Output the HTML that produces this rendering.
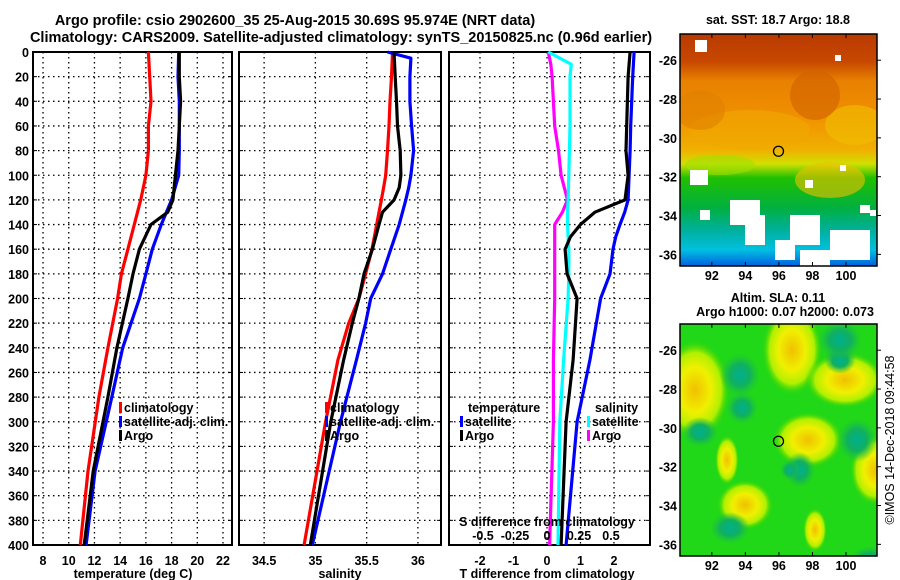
<!DOCTYPE html>
<html><head><meta charset="utf-8"><style>
body{margin:0;background:#fff}
svg{display:block;font-family:"Liberation Sans",sans-serif;font-weight:bold}
</style></head><body>
<svg id="s" width="900" height="580" viewBox="0 0 900 580">
<defs>
<linearGradient id="sst" x1="0" y1="0" x2="0" y2="1">
<stop offset="0" stop-color="#b83a00"/><stop offset="0.12" stop-color="#c84800"/>
<stop offset="0.2" stop-color="#e88000"/><stop offset="0.35" stop-color="#f09000"/>
<stop offset="0.5" stop-color="#f0b000"/><stop offset="0.56" stop-color="#d0e000"/>
<stop offset="0.62" stop-color="#20c000"/><stop offset="0.75" stop-color="#00b040"/>
<stop offset="0.85" stop-color="#00b0a0"/><stop offset="0.93" stop-color="#00c0e0"/>
<stop offset="1" stop-color="#0060e0"/></linearGradient>
<radialGradient id="yb"><stop offset="0" stop-color="#f0c000"/><stop offset="0.45" stop-color="#f0f000"/><stop offset="0.75" stop-color="#b0f000"/><stop offset="1" stop-color="#30d000" stop-opacity="0"/></radialGradient>
<radialGradient id="tb"><stop offset="0" stop-color="#00b090"/><stop offset="0.5" stop-color="#10b060"/><stop offset="1" stop-color="#20c040" stop-opacity="0"/></radialGradient>
<clipPath id="c1"><rect x="680" y="34" width="197" height="232"/></clipPath>
<clipPath id="c2"><rect x="680" y="324" width="197" height="232"/></clipPath>
</defs>
<text x="295" y="25" font-size="14.5" text-anchor="middle">Argo profile: csio 2902600_35 25-Aug-2015 30.69S 95.974E (NRT data)</text>
<text x="341" y="42" font-size="14.5" text-anchor="middle">Climatology: CARS2009. Satellite-adjusted climatology: synTS_20150825.nc (0.96d earlier)</text>
<g id="g"></g>
</svg>
<script>
// depth axis
const depthTicks=[0,20,40,60,80,100,120,140,160,180,200,220,240,260,280,300,320,340,360,380,400];
// temperature panel
const tTicks=[8,10,12,14,16,18,20,22];
const tDepth=[0,20,40,60,80,100,120,130,140,160,180,200,240,280,340,400];
const tClim=[16.2,16.3,16.4,16.2,16.2,16.0,15.6,15.35,15.1,14.6,14.1,13.8,13.05,12.35,11.5,10.9];
const tSat=[18.55,18.5,18.6,18.6,18.6,18.55,18.0,17.6,17.2,16.5,16.0,15.5,14.2,13.35,12.05,11.35];
const tArgo=[18.6,18.6,18.7,18.6,18.5,18.3,18.1,17.7,16.4,15.5,15.0,14.6,13.75,13.05,11.9,11.2];
// salinity panel
const sTicks=[34.5,35,35.5,36];
const sTickLabels=["34.5","35","35.5","36"];
const sDepth=[0,5,20,40,60,80,100,110,120,130,140,160,180,200,220,250,300,400];
const sClim=[35.752,35.75,35.742,35.728,35.718,35.703,35.686,35.665,35.644,35.62,35.598,35.552,35.49,35.424,35.325,35.22,35.10,34.89];
const sSat=[35.703,35.931,35.922,35.922,35.938,35.958,35.931,35.91,35.882,35.85,35.817,35.735,35.654,35.539,35.49,35.40,35.245,34.97];
const sArgo=[35.768,35.77,35.778,35.791,35.801,35.827,35.834,35.817,35.768,35.654,35.620,35.556,35.474,35.424,35.36,35.275,35.15,34.95];
// difference panel
const dTTicks=[-2,-1,0,1,2];
const dSTicks=[-0.5,-0.25,0,0.25,0.5];
const dSTickLabels=["-0.5","-0.25","0","0.25","0.5"];
const dDepth=[0,10,20,60,80,100,120,130,140,150,160,180,200,250,300,400];
const dTArgo=[2.48,2.45,2.42,2.38,2.36,2.42,2.33,1.43,1.0,0.7,0.54,0.6,0.9,0.78,0.57,0.42];
const dTSat=[2.6,2.58,2.56,2.5,2.48,2.45,2.42,2.32,2.18,2.05,1.97,1.88,1.6,1.28,0.9,0.57];
const dSSat=[0.01,0.19,0.18,0.18,0.175,0.17,0.165,0.16,0.16,0.165,0.17,0.17,0.165,0.13,0.1,0.086];
const dSArgo=[0.01,0.03,0.04,0.06,0.09,0.11,0.16,0.12,0.06,0.06,0.06,0.06,0.06,0.05,0.05,0.02];
// maps
const lonTicks=[92,94,96,98,100];
const latTicks=[-26,-28,-30,-32,-34,-36];
const argoLon=95.974, argoLat=-30.69;

const NS='http://www.w3.org/2000/svg', G=document.getElementById('g');
function el(t,a,p){const e=document.createElementNS(NS,t);for(const k in a)e.setAttribute(k,a[k]);(p||G).appendChild(e);return e;}
const Y0=52,Y1=545;
const yD=d=>Y0+(d/400)*(Y1-Y0);
function panel(name,x0,x1,vmin,vmax,ticks,labels,labelY){
  const sx=v=>x0+(v-vmin)/(vmax-vmin)*(x1-x0);
  const g=el('g',{});
  
  
  ticks.forEach((t,i)=>{const x=sx(t);
    el('line',{x1:x,x2:x,y1:Y0,y2:Y1,stroke:'#000','stroke-width':1.3,'stroke-dasharray':'1.5 3.5'},g);
    if(labels){const tx=el('text',{x:x,y:labelY,'font-size':12.5,'text-anchor':'middle'},g);tx.textContent=labels[i];
      
      }
  });
  depthTicks.forEach(d=>{const y=yD(d);
    el('line',{x1:x0,x2:x1,y1:y,y2:y,stroke:'#000','stroke-width':1.3,'stroke-dasharray':'1.5 3.5'},g);
    el('line',{x1:x0,x2:x0+4,y1:y,y2:y,stroke:'#000'},g);el('line',{x1:x1-4,x2:x1,y1:y,y2:y,stroke:'#000'},g);});
  const r=el('rect',{x:x0,y:Y0,width:x1-x0,height:Y1-Y0,fill:'none',stroke:'#000','stroke-width':2},g);
  
  
  return {sx,g};
}
function line(p,xs,ds,col,name){
  const pts=xs.map((v,i)=>p.sx(v).toFixed(1)+','+yD(ds[i]).toFixed(1)).join(' ');
  const e=el('polyline',{points:pts,fill:'none',stroke:col,'stroke-width':3.2,'stroke-linejoin':'round'},p.g);
  
  
}
function txt(x,y,s,fs,anchor,name){const t=el('text',{x:x,y:y,'font-size':fs,'text-anchor':anchor||'start'});t.textContent=s;
  
  return t;}
function leg(x,y,col,s,name){el('rect',{x:x,y:y-10,width:3,height:11,fill:col});txt(x+5,y,s,12.5,'start',name);}

// depth labels
depthTicks.forEach(d=>{txt(29,yD(d)+5,String(d),12.5,'end','y-tick-label');});

// panel 1
const p1=panel('temperature-panel',33,232,7.22,22.7,tTicks,tTicks.map(String),565);
line(p1,tClim,tDepth,'#f00','climatology-temperature-line');
line(p1,tSat,tDepth,'#00f','satellite-temperature-line');
line(p1,tArgo,tDepth,'#000','argo-temperature-line');
txt(133,578,'temperature (deg C)',12.5,'middle','x-axis-title-temperature');
leg(119,412,'#f00','climatology','legend-climatology');
leg(119,426,'#00f','satellite-adj. clim.','legend-satellite');
leg(119,440,'#000','Argo','legend-argo');

// panel 2
const p2=panel('salinity-panel',239,441,34.255,36.225,sTicks,sTickLabels,565);
line(p2,sClim,sDepth,'#f00','climatology-salinity-line');
line(p2,sSat,sDepth,'#00f','satellite-salinity-line');
line(p2,sArgo,sDepth,'#000','argo-salinity-line');
txt(340,578,'salinity',12.5,'middle','x-axis-title-salinity');
leg(325,412,'#f00','climatology','legend-climatology-2');
leg(325,426,'#00f','satellite-adj. clim.','legend-satellite-2');
leg(325,440,'#000','Argo','legend-argo-2');

// panel 3
const p3=panel('difference-panel',449,650,-2.925,3.075,dTTicks,dTTicks.map(String),565);
const sxS=v=>547+v*128;
dSTicks.forEach((t,i)=>{txt(sxS(t),540,dSTickLabels[i],12.5,'middle','s-diff-tick-label');});
const p3s={sx:sxS,g:p3.g};
line(p3s,dSArgo,dDepth,'#f0f','argo-salinity-diff-line');
line(p3s,dSSat,dDepth,'#0ff','satellite-salinity-diff-line');
line(p3,dTSat,dDepth,'#00f','satellite-temperature-diff-line');
line(p3,dTArgo,dDepth,'#000','argo-temperature-diff-line');
txt(547,526,'S difference from climatology',12.5,'middle','s-diff-axis-title');
txt(547,578,'T difference from climatology',12.5,'middle','t-diff-axis-title');
txt(468,412,'temperature',12.5,'start','legend-title-temperature');
leg(460,426,'#00f','satellite','legend-t-satellite');
leg(460,440,'#000','Argo','legend-t-argo');
txt(595,412,'salinity',12.5,'start','legend-title-salinity');
leg(587,426,'#0ff','satellite','legend-s-satellite');
leg(587,440,'#f0f','Argo','legend-s-argo');

// maps
function map(name,top,title1,title2){
  const L=680,R=877,B=top+232;
  const sx=lon=>L+(lon-90.1)/(101.85-90.1)*(R-L);
  const sy=lat=>top+(-24.65-lat)/(36.6-24.65)*(B-top);
  const g=el('g',{});
  
  
  if(top<100){
    el('rect',{x:L,y:top,width:R-L,height:B-top,fill:'url(#sst)'},g);
    const gc=el('g',{'clip-path':'url(#c1)'},g);
    [[750,130,60,20,'#f0a800'],[855,125,30,20,'#f0c000'],[815,95,25,25,'#d06000'],[700,110,25,20,'#e08000'],[830,180,35,18,'#f0c000'],[720,165,35,10,'#a0e000']].forEach(a=>el('ellipse',{cx:a[0],cy:a[1],rx:a[2],ry:a[3],fill:a[4],opacity:0.6},gc));
    [[695,40,12,12],[690,170,18,15],[730,200,30,25],[745,215,20,30],[790,215,30,30],[830,230,40,30],[800,250,30,16],[775,240,20,20],[700,210,10,10],[805,180,8,8],[840,165,6,6],[860,205,10,8],[870,210,6,6],[835,55,6,6]].forEach(a=>el('rect',{x:a[0],y:a[1],width:a[2],height:a[3],fill:'#fff'},gc));
  } else {
    el('rect',{x:L,y:top,width:R-L,height:B-top,fill:'#20d818'},g);
    const gc=el('g',{'clip-path':'url(#c2)'},g);
    [[695,390,35,50],[792,350,30,45],[845,380,40,28],[808,440,35,28],[745,505,28,25],[875,470,25,35],[727,460,12,25],[815,530,12,22]].forEach(a=>el('ellipse',{cx:a[0],cy:a[1],rx:a[2],ry:a[3],fill:'url(#yb)'},gc));
    [[740,375,20,22],[742,408,16,16],[840,360,16,14],[857,440,20,22],[800,470,15,18],[730,528,20,16],[700,432,18,15],[840,340,22,20],[870,560,20,14],[790,470,10,10]].forEach(a=>el('ellipse',{cx:a[0],cy:a[1],rx:a[2],ry:a[3],fill:'url(#tb)'},gc));
  }
  el('rect',{x:L,y:top,width:R-L,height:B-top,fill:'none',stroke:'#000','stroke-width':1.5},g);
  lonTicks.forEach(t=>{const x=sx(t);el('line',{x1:x,x2:x,y1:B,y2:B-4,stroke:'#000'},g);el('line',{x1:x,x2:x,y1:top,y2:top+4,stroke:'#000'},g);
    txt(x,B+14,String(t),12.5,'middle','map-lon-label');});
  latTicks.forEach(t=>{const y=sy(t);el('line',{x1:R,x2:R+4,y1:y,y2:y,stroke:'#000'},g);
    txt(L-3,y+5,String(t),12.5,'end','map-lat-label');});
  const c=el('circle',{cx:sx(argoLon),cy:sy(argoLat),r:5,fill:'none',stroke:'#000','stroke-width':1.3},g);
  
  
  if(title2){txt(778,top-22,title1,12.5,'middle','map-title');txt(785,top-8,title2,12.5,'middle','map-subtitle');}
  else txt(778,top-10,title1,12.5,'middle','map-title');
}
map('sst-map',34,'sat. SST: 18.7 Argo: 18.8');
map('sla-map',324,'Altim. SLA: 0.11','Argo h1000: 0.07 h2000: 0.073');
const d=txt(0,0,'©IMOS 14-Dec-2018 09:44:58',12.5,'middle','timestamp');
d.setAttribute('font-weight','normal');
d.setAttribute('transform','translate(894,440) rotate(-90)');
</script>
</body></html>
